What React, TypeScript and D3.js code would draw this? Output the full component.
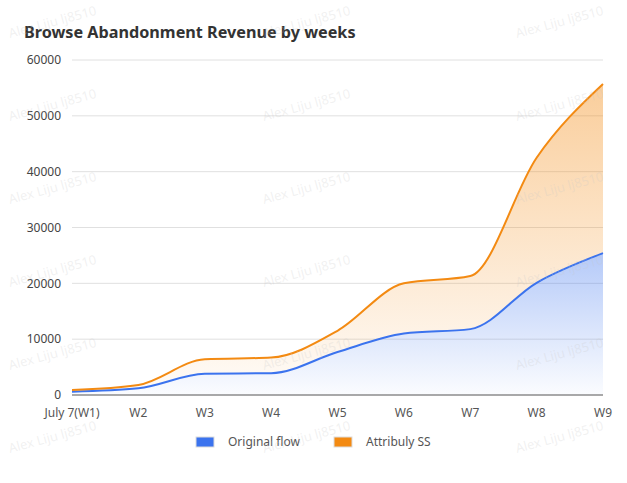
import React from "react";
import * as d3 from "d3";

const categories = ["July 7(W1)", "W2", "W3", "W4", "W5", "W6", "W7", "W8", "W9"];
const originalFlow = [600, 1200, 3800, 3900, 7700, 11000, 11800, 20100, 25400];
// stacked increment on top of Original flow
const attribulySS = [300, 600, 2600, 2800, 3800, 9000, 9500, 22400, 30300];
const yTicks = [0, 10000, 20000, 30000, 40000, 50000, 60000];
const seriesNames = ["Original flow", "Attribuly SS"];
const watermarkText = "Alex Liju lj8510";

const W = 627;
const H = 483;
const M = { left: 72, right: 24, top: 60, bottom: 88 };
const BLUE = "#3b73ee";
const ORANGE = "#f38a12";
const FONT = "'Noto Sans', 'Open Sans', sans-serif";

export default function App() {
  const x = d3
    .scalePoint<string>()
    .domain(categories)
    .range([M.left, W - M.right]);
  const y = d3
    .scaleLinear()
    .domain([0, 60000])
    .range([H - M.bottom, M.top]);

  const rows = categories.map((c, i) => ({
    cat: c,
    orig: originalFlow[i],
    attr: attribulySS[i],
  }));
  const stacked = d3.stack<any>().keys(["orig", "attr"])(rows);

  const curve = d3.curveMonotoneX;
  const area = d3
    .area<any>()
    .x((d) => x(d.data.cat)!)
    .y0((d) => y(d[0]))
    .y1((d) => y(d[1]))
    .curve(curve);
  const line = d3
    .line<any>()
    .x((d) => x(d.data.cat)!)
    .y((d) => y(d[1]))
    .curve(curve);

  const colors = [BLUE, ORANGE];
  const wmCols = [10, 264, 517];
  const wmRows = [38, 121, 204, 287, 370, 453];

  return (
    <svg
      width={W}
      height={H}
      style={{ position: "absolute", left: 0, top: 0, background: "#fff" }}
      fontFamily={FONT}
    >
      <defs>
        <linearGradient id="gBlue" x1="0" y1="0" x2="0" y2="1">
          <stop offset="0%" stopColor={BLUE} stopOpacity={0.38} />
          <stop offset="100%" stopColor={BLUE} stopOpacity={0.02} />
        </linearGradient>
        <linearGradient id="gOrange" x1="0" y1="0" x2="0" y2="1">
          <stop offset="0%" stopColor={ORANGE} stopOpacity={0.42} />
          <stop offset="100%" stopColor={ORANGE} stopOpacity={0.03} />
        </linearGradient>
      </defs>

      <text x={24} y={38} fontSize={16.2} fontWeight="bold" fill="#333">
        Browse Abandonment Revenue by weeks
      </text>

      {yTicks.map((t) => (
        <g key={t}>
          {t > 0 && (
            <line
              x1={M.left}
              x2={W - M.right}
              y1={y(t)}
              y2={y(t)}
              stroke="#e0e0e0"
              strokeWidth={1}
            />
          )}
          <text
            x={61}
            y={y(t)}
            dy="0.35em"
            textAnchor="end"
            fontSize={12}
            fill="#444"
          >
            {t}
          </text>
        </g>
      ))}

      {stacked.map((s, i) => (
        <path
          key={"a" + i}
          d={area(s as any)!}
          fill={i === 0 ? "url(#gBlue)" : "url(#gOrange)"}
        />
      ))}
      {stacked.map((s, i) => (
        <path
          key={"l" + i}
          d={line(s as any)!}
          fill="none"
          stroke={colors[i]}
          strokeWidth={2}
        />
      ))}

      <line
        x1={M.left}
        x2={W - M.right}
        y1={y(0)}
        y2={y(0)}
        stroke="#555"
        strokeWidth={1}
      />
      {categories.map((c) => (
        <text
          key={c}
          x={x(c)}
          y={y(0) + 22}
          textAnchor="middle"
          fontSize={12}
          fill="#555"
        >
          {c}
        </text>
      ))}

      {seriesNames.map((n, i) => {
        const lx = [196, 334][i];
        return (
          <g key={n}>
            <rect
              x={lx}
              y={437}
              width={18}
              height={10}
              fill={colors[i]}
              stroke="#ddd"
              strokeWidth={1}
            />
            <text x={lx + 32} y={442} dy="0.35em" fontSize={12} fill="#555">
              {n}
            </text>
          </g>
        );
      })}

      {wmRows.map((ry) =>
        wmCols.map((cx) => (
          <text
            key={ry + "-" + cx}
            x={cx}
            y={ry}
            fontSize={13}
            fill="#c8c8c8"
            fillOpacity={0.25}
            transform={`rotate(-15 ${cx} ${ry})`}
          >
            {watermarkText}
          </text>
        ))
      )}
    </svg>
  );
}
